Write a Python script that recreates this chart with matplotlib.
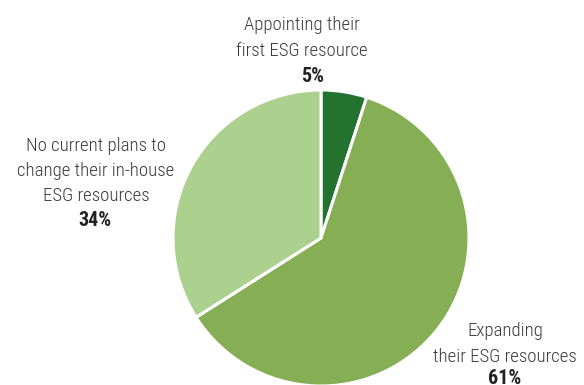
import matplotlib
matplotlib.use('Agg')
import matplotlib.pyplot as plt

# share of firms by plan for in-house ESG resources
labels = ['Appointing their\nfirst ESG resource',
          'Expanding\ntheir ESG resources',
          'No current plans to\nchange their in-house\nESG resources']
shares = [5, 61, 34]
colors = ['#24722f', '#86ae55', '#acd18f']

W, H = 584, 385
fig = plt.figure(figsize=(W / 100, H / 100), dpi=100)
ax = fig.add_axes([0, 0, 1, 1])

ax.pie(shares, colors=colors, startangle=90, counterclock=False,
       center=(321, H - 238), radius=148, frame=True,
       wedgeprops=dict(edgecolor='white', linewidth=2.2))
ax.set_xlim(0, W)
ax.set_ylim(0, H)
ax.set_aspect('equal')
ax.axis('off')

fam = ['Roboto Condensed', 'Liberation Sans Narrow', 'Roboto', 'DejaVu Sans']
txt = dict(ha='center', va='center', fontsize=13.5, color='#3a3a3a',
           family=fam, fontweight='light', linespacing=1.5)
pct = dict(ha='center', va='center', fontsize=14.5, color='#222222',
           family=fam, fontweight='bold')

# label positions (x, y of text block centre, y of the percentage)
spots = [(302, 38, 313, 77), (505, 344, 505, 379), (96, 171, 95, 220)]
for lab, val, (x, y, px, py) in zip(labels, shares, spots):
    ax.text(x, H - y, lab, **txt)
    ax.text(px, H - py, f'{val}%', **pct)

fig.savefig('out.png', dpi=100)
